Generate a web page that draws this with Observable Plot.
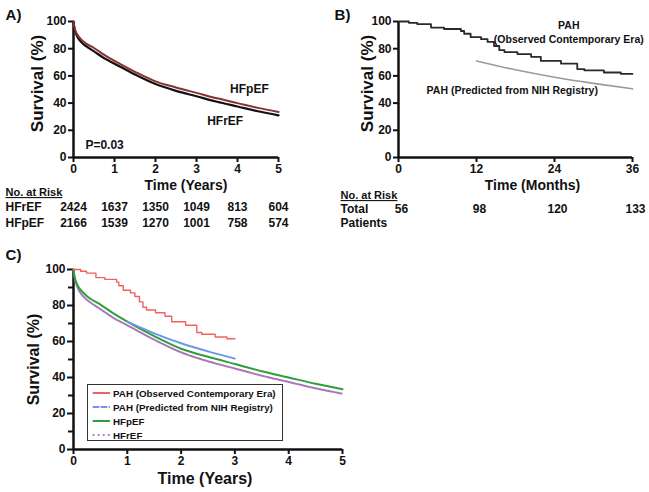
<!DOCTYPE html>
<html>
<head>
<meta charset="utf-8">
<script src="https://cdn.jsdelivr.net/npm/d3@7"></script>
<script src="https://cdn.jsdelivr.net/npm/@observablehq/plot@0.6"></script>
<style>
  body { margin: 0; background: #fff; }
  #wrap { position: relative; width: 649px; height: 492px; overflow: hidden; font-family: 'Liberation Sans', Arial, sans-serif; font-weight: bold; }
  .panel { position: absolute; }
  #legend { position: absolute; left: 87px; top: 384px; width: 196px; height: 57px; border: 1.2px solid #333; box-sizing: border-box; padding-top: 1px; font-size: 9.8px; color: #111; white-space: nowrap; }
  #legend .row { display: flex; align-items: center; height: 14px; }
  #legend svg { margin-left: 4px; margin-right: 3px; flex: none; }
</style>
</head>
<body>
<div id="wrap"></div>
<script>
// ---------- Data ----------
const years = [0, 1, 2, 3, 4, 5];
const hfTime = [0, 0.02, 0.05, 0.1, 0.2, 0.3, 0.5, 0.75, 1, 1.5, 2, 2.5, 3, 3.5, 4, 4.5, 5];
const hfpefSurv = [100, 96, 93, 90, 86.5, 84, 80.5, 75.5, 71, 63, 56, 51.5, 47.5, 43.5, 40, 36.5, 33.5];
const hfrefSurv = [100, 95.5, 92, 88.5, 84.5, 82, 78, 73, 69, 61, 54, 49, 45, 41, 37.5, 34, 31];
const riskHFrEF = ["2424", "1637", "1350", "1049", "813", "604"];
const riskHFpEF = ["2166", "1539", "1270", "1001", "758", "574"];

const months = [0, 12, 24, 36];
const obsMonths = [0, 1.6, 2.9, 5, 7, 9.6, 10.1, 11.1, 12.7, 13.7, 14.7, 15.5, 16.3, 18.3, 20.4, 21.9, 25, 27.5, 28.6, 31.6, 34.2, 36];
const obsSurv   = [100, 99, 98, 95.5, 94.5, 93, 91, 88.5, 87, 85, 82, 79, 77.5, 76, 74, 71, 69, 65, 64, 62.5, 61.5, 61.5];
const predMonths = [12, 18, 24, 30, 36];
const predSurv   = [71, 64.5, 59, 54.5, 50.5];
const riskTotal = ["56", "98", "120", "133"];

const yTicks = [0, 20, 40, 60, 80, 100];
const yMinor = [10, 30, 50, 70, 90];

// ---------- Tables ----------
const hf = hfTime.map((t, i) => ({t, pef: hfpefSurv[i], ref: hfrefSurv[i]}));
const riskA = years.map((t, i) => ({t, ref: riskHFrEF[i], pef: riskHFpEF[i]}));
const obs = obsMonths.map((m, i) => ({m, y: m / 12, s: obsSurv[i]}));
const pred = predMonths.map((m, i) => ({m, y: m / 12, s: predSurv[i]}));
const riskB = months.map((m, i) => ({m, n: riskTotal[i]}));

const fontFamily = "'Liberation Sans', Arial, sans-serif";
const style = {fontFamily, fontWeight: "bold", color: "#111", background: "transparent", overflow: "visible"};
const fmt = d3.format("d");
const wrap = document.getElementById("wrap");
function place(el, left, top) {
  el.classList.add("panel");
  el.style.left = left + "px";
  el.style.top = top + "px";
  wrap.appendChild(el);
  return el;
}
// helper for free-standing labels anchored to the frame
function label(str, opts) {
  return Plot.text([str], {text: d => d, textAnchor: "middle", lineAnchor: "middle", ...opts});
}

// ---------- Panel A ----------
const A = Plot.plot({
  width: 330, height: 240,
  marginLeft: 73, marginRight: 52, marginTop: 21, marginBottom: 83,
  x: {domain: [0, 5]}, y: {domain: [0, 100]},
  style,
  marks: [
    Plot.axisX({ticks: years, tickFormat: fmt, tickSize: 5, tickPadding: 2, fontSize: 12, label: null, strokeWidth: 2}),
    Plot.axisY({ticks: yTicks, tickFormat: fmt, tickSize: 5, tickPadding: 2, fontSize: 12, label: null, strokeWidth: 2}),
    Plot.ruleX([0], {strokeWidth: 2.5}),
    Plot.ruleY([0], {strokeWidth: 2.5}),
    Plot.line(hf, {x: "t", y: "ref", curve: "monotone-x", stroke: "#111", strokeWidth: 2.2}),
    Plot.line(hf, {x: "t", y: "pef", curve: "monotone-x", stroke: "#8b3030", strokeWidth: 2}),
    Plot.text(["HFpEF"], {x: 4.29, y: 50.5, text: d => d, fontSize: 12}),
    Plot.text(["HFrEF"], {x: 3.7, y: 26.5, text: d => d, fontSize: 12}),
    Plot.text(["P=0.03"], {x: 0.29, y: 8.8, text: d => d, textAnchor: "start", fontSize: 12}),
    label("A)", {frameAnchor: "top-left", dx: -60, dy: -6, fontSize: 15}),
    label("Survival (%)", {frameAnchor: "left", dx: -36, dy: -6, rotate: -90, fontSize: 17}),
    label("Time (Years)", {frameAnchor: "bottom", dx: 10, dy: 28, fontSize: 14}),
    label("No. at Risk", {frameAnchor: "bottom-left", dx: -68, dy: 35, textAnchor: "start", fontSize: 11}),
    label("HFrEF", {frameAnchor: "bottom-left", dx: -68, dy: 50, textAnchor: "start", fontSize: 12}),
    label("HFpEF", {frameAnchor: "bottom-left", dx: -68, dy: 66, textAnchor: "start", fontSize: 12}),
    Plot.text(riskA, {x: "t", text: "ref", frameAnchor: "bottom", lineAnchor: "middle", dy: 50, fontSize: 12}),
    Plot.text(riskA, {x: "t", text: "pef", frameAnchor: "bottom", lineAnchor: "middle", dy: 66, fontSize: 12})
  ]
});
place(A, 0, 0);

// ---------- Panel B ----------
const B = Plot.plot({
  width: 319, height: 240,
  marginLeft: 68, marginRight: 17, marginTop: 21, marginBottom: 83,
  x: {domain: [0, 36]}, y: {domain: [0, 100]},
  style,
  marks: [
    Plot.axisX({ticks: months, tickFormat: fmt, tickSize: 5, tickPadding: 2, fontSize: 12, label: null, strokeWidth: 2}),
    Plot.axisY({ticks: yTicks, tickFormat: fmt, tickSize: 5, tickPadding: 2, fontSize: 12, label: null, strokeWidth: 2}),
    Plot.ruleX([0], {strokeWidth: 2.5}),
    Plot.ruleY([0], {strokeWidth: 2.5}),
    Plot.line(pred, {x: "m", y: "s", curve: "monotone-x", stroke: "#9a9a9a", strokeWidth: 1.6}),
    Plot.line(obs, {x: "m", y: "s", curve: "step-after", stroke: "#2a2a2a", strokeWidth: 1.8}),
    Plot.text(["PAH"], {x: 26.2, y: 97, text: d => d, fontSize: 10.5}),
    Plot.text(["(Observed Contemporary Era)"], {x: 26.2, y: 86.8, text: d => d, fontSize: 10.5}),
    Plot.text(["PAH (Predicted from NIH Registry)"], {x: 17.5, y: 49.3, text: d => d, fontSize: 10.5}),
    label("B)", {frameAnchor: "top-left", dx: -56, dy: -6, fontSize: 15}),
    label("Survival (%)", {frameAnchor: "left", dx: -31, dy: -6, rotate: -90, fontSize: 17}),
    label("Time (Months)", {frameAnchor: "bottom", dx: 17, dy: 28, fontSize: 14}),
    label("No. at Risk", {frameAnchor: "bottom-left", dx: -58, dy: 38, textAnchor: "start", fontSize: 11}),
    label("Total", {frameAnchor: "bottom-left", dx: -58, dy: 52, textAnchor: "start", fontSize: 12}),
    label("Patients", {frameAnchor: "bottom-left", dx: -58, dy: 66, textAnchor: "start", fontSize: 12}),
    Plot.text(riskB, {x: "m", text: "n", frameAnchor: "bottom", lineAnchor: "middle", dy: 52, dx: 3, fontSize: 12})
  ]
});
place(B, 330, 0);

// ---------- Panel C ----------
const C = Plot.plot({
  width: 400, height: 247,
  marginLeft: 73, marginRight: 58, marginTop: 24, marginBottom: 43,
  x: {domain: [0, 5]}, y: {domain: [0, 100]},
  style,
  marks: [
    Plot.axisX({ticks: years, tickFormat: fmt, tickSize: 5, tickPadding: 2, fontSize: 12, label: null, strokeWidth: 2}),
    Plot.axisY({ticks: yTicks, tickFormat: fmt, tickSize: 6, tickPadding: 2, fontSize: 12, label: null, strokeWidth: 2}),
    Plot.axisY({ticks: yMinor, tickSize: 5, tickFormat: () => "", label: null, strokeWidth: 2}),
    Plot.ruleX([0], {strokeWidth: 2.5}),
    Plot.ruleY([0], {strokeWidth: 2.5}),
    Plot.line(hf, {x: "t", y: "ref", curve: "monotone-x", stroke: "#a877b8", strokeWidth: 2, strokeDasharray: "2,1"}),
    Plot.line(hf, {x: "t", y: "pef", curve: "monotone-x", stroke: "#2f9e3a", strokeWidth: 2}),
    Plot.line(pred, {x: "y", y: "s", curve: "monotone-x", stroke: "#6d98ea", strokeWidth: 2}),
    Plot.line(obs, {x: "y", y: "s", curve: "step-after", stroke: "#f06262", strokeWidth: 1.4}),
    label("C)", {frameAnchor: "top-left", dx: -60, dy: -14, fontSize: 15}),
    label("Survival (%)", {frameAnchor: "left", dx: -40, rotate: -90, fontSize: 16}),
    label("Time (Years)", {frameAnchor: "bottom", dx: -3, dy: 29, fontSize: 16})
  ]
});
place(C, 0, 245);

// underline "No. at Risk"
d3.selectAll("#wrap svg text").filter(function() { return this.textContent === "No. at Risk"; })
  .style("text-decoration", "underline");

// ---------- Legend for C ----------
const legendItems = [
  {label: "PAH (Observed Contemporary Era)", color: "#f06262", dash: null},
  {label: "PAH (Predicted from NIH Registry)", color: "#6d98ea", dash: "5,3"},
  {label: "HFpEF", color: "#2f9e3a", dash: null},
  {label: "HFrEF", color: "#a877b8", dash: "0.1,5"}
];
const legend = document.createElement("div");
legend.id = "legend";
legendItems.forEach(it => {
  const row = document.createElement("div");
  row.className = "row";
  row.innerHTML = `<svg width="18" height="6"><line x1="1.5" x2="18" y1="3" y2="3" stroke="${it.color}" stroke-width="2.2" stroke-linecap="round" ${it.dash ? `stroke-dasharray="${it.dash}"` : ""}/></svg><span>${it.label}</span>`;
  legend.appendChild(row);
});
wrap.appendChild(legend);
</script>
</body>
</html>
